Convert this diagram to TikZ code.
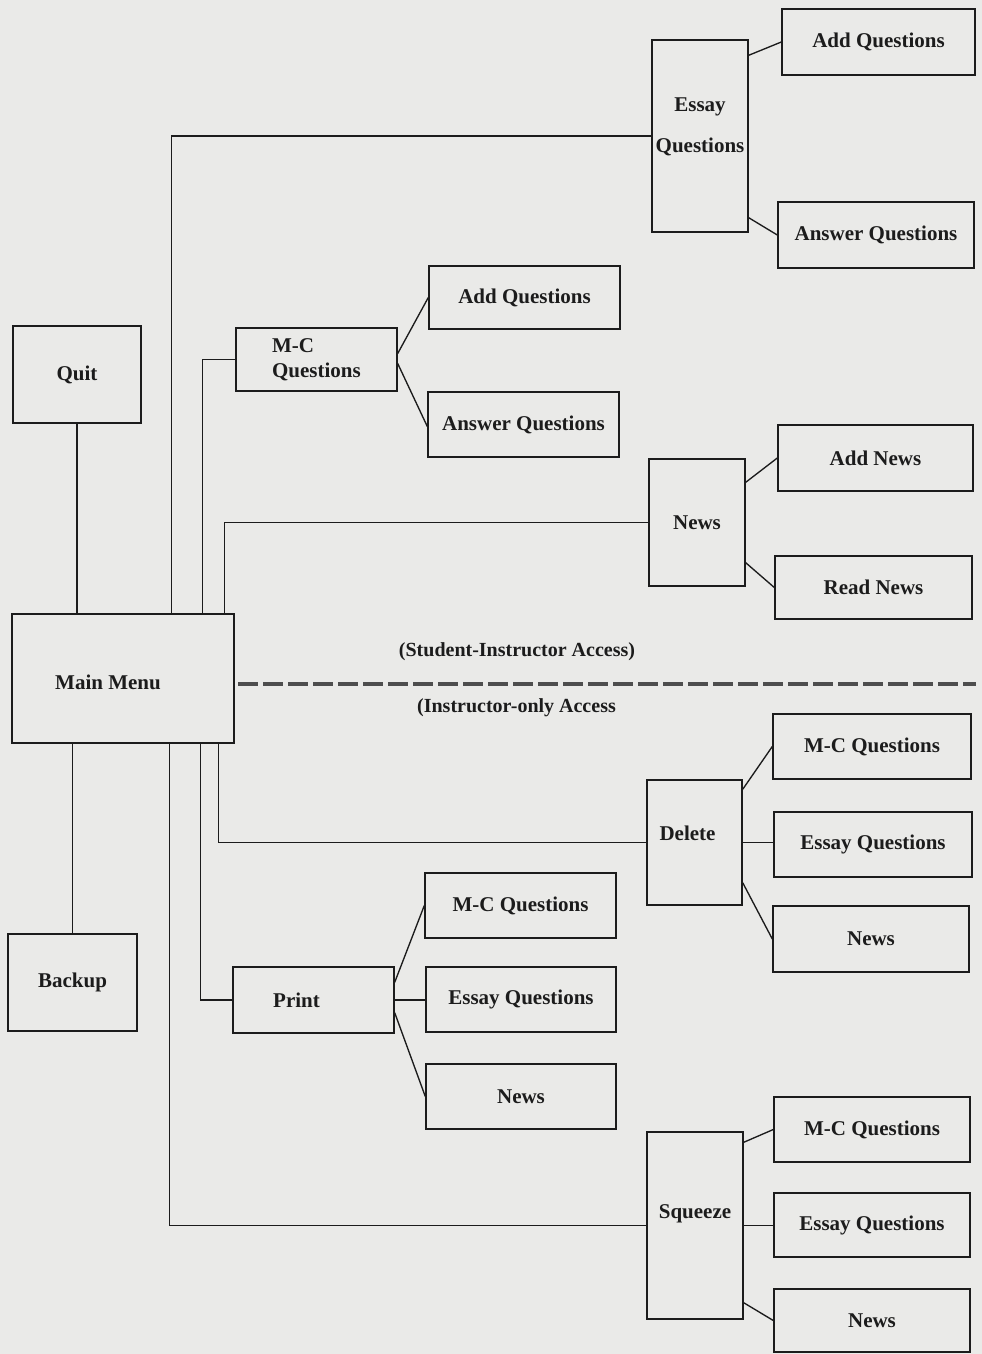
\documentclass[tikz,border=0pt]{standalone}
\usepackage{fontspec}
\setmainfont{Liberation Serif}
\usetikzlibrary{calc}
\definecolor{paper}{RGB}{234,234,232}
\definecolor{ink}{RGB}{28,28,28}
\definecolor{dashink}{RGB}{78,78,78}
\begin{document}
\begin{tikzpicture}[x=1pt,y=-1pt,
  box/.style={draw=ink, line width=1.4pt, inner sep=0pt, text=ink,
    font=\fontsize{21}{25}\selectfont\bfseries},
  btxt/.style={text=ink, inner sep=0pt, font=\fontsize{21}{25}\selectfont\bfseries},
  link/.style={draw=ink, line width=1.35pt},
  lbl/.style={text=ink, font=\fontsize{20}{24}\selectfont\bfseries, inner sep=0pt},
  divider/.style={draw=dashink, line width=3.6pt, dash pattern=on 20pt off 5pt}]
\fill[paper] (0,0) rectangle (982,1354);
\useasboundingbox (0,0) rectangle (982,1354);

% boxes
\node[box, minimum width=96pt, minimum height=192pt] (essay) at (700,136) {};
\node[btxt, align=center] (essayT) at ([yshift=9.5pt]essay.center) {Essay\\[16pt]Questions};
\node[box, minimum width=193pt, minimum height=66pt] (addq1) at (878.5,42) {Add Questions};
\node[box, minimum width=196pt, minimum height=66pt] (ansq1) at (876,235) {Answer Questions};

\node[box, minimum width=128pt, minimum height=97pt] (quit) at (77,374.5) {Quit};
\node[box, minimum width=222pt, minimum height=129pt] (main) at (123,678.5) {};
\node[btxt] (mainT) at ([xshift=-15pt,yshift=-3.5pt]main.center) {Main Menu};

\node[box, minimum width=161pt, minimum height=63pt, align=left] (mc1) at (316.5,359.5) {M-C\\Questions};
\node[box, minimum width=191pt, minimum height=63pt] (addq2) at (524.5,297.5) {Add Questions};
\node[box, minimum width=191pt, minimum height=65pt] (ansq2) at (523.5,424.5) {Answer Questions};

\node[box, minimum width=96pt, minimum height=127pt] (news1) at (697,522.5) {News};
\node[box, minimum width=195pt, minimum height=66pt] (addnews) at (875.5,458) {Add News};
\node[box, minimum width=197pt, minimum height=63pt] (readnews) at (873.5,587.5) {Read News};

\node[box, minimum width=95pt, minimum height=125pt] (delete) at (694.5,842.5) {};
\node[btxt] (deleteT) at ([xshift=-7pt,yshift=9pt]delete.center) {Delete};
\node[box, minimum width=198pt, minimum height=65pt] (dmc) at (872,746.5) {M-C Questions};
\node[box, minimum width=198pt, minimum height=65pt] (dessay) at (873,844.5) {Essay Questions};
\node[box, minimum width=196pt, minimum height=66pt] (dnews) at (871,939) {News};

\node[box, minimum width=161pt, minimum height=66pt] (print) at (313.5,1000) {};
\node[btxt] (printT) at ([xshift=-17pt]print.center) {Print};
\node[box, minimum width=191pt, minimum height=65pt] (pmc) at (520.5,905.5) {M-C Questions};
\node[box, minimum width=190pt, minimum height=65pt] (pessay) at (521,999.5) {Essay Questions};
\node[box, minimum width=190pt, minimum height=65pt] (pnews) at (521,1096.5) {News};

\node[box, minimum width=129pt, minimum height=97pt] (backup) at (72.5,982.5) {Backup};

\node[box, minimum width=96pt, minimum height=187pt] (squeeze) at (695,1225.5) {};
\node[btxt] (squeezeT) at ([yshift=12pt]squeeze.center) {Squeeze};
\node[box, minimum width=196pt, minimum height=65pt] (smc) at (872,1129.5) {M-C Questions};
\node[box, minimum width=196pt, minimum height=64pt] (sessay) at (872,1225) {Essay Questions};
\node[box, minimum width=196pt, minimum height=63pt] (snews) at (872,1320.5) {News};

% access labels and divider
\node[lbl] (stud) at (517,652) {(Student-Instructor Access)};
\node[lbl] (instr) at (516.5,708) {(Instructor-only Access};
\coordinate (dashL) at (238,684);
\coordinate (dashR) at (976,684);
\draw[divider] (dashL) -- (dashR);

% main menu trunks (top)
\draw[link] (quit.south) -- (quit.south |- main.north);
\draw[link] ([xshift=160pt]main.north west) |- (essay.west);
\draw[link] ([xshift=191pt]main.north west) |- (mc1.west);
\draw[link] ([xshift=213pt]main.north west) |- (news1.west);
% main menu trunks (bottom)
\draw[link] (backup.north |- main.south) -- (backup.north);
\draw[link] ([xshift=158pt]main.south west) |- (squeeze.west);
\draw[link] ([xshift=189pt]main.south west) |- (print.west);
\draw[link] ([xshift=207pt]main.south west) |- (delete.west);

% branches
\draw[link] ([yshift=-16pt]essay.north east) -- (addq1.west);
\draw[link] ([yshift=15pt]essay.south east) -- (ansq1.west);
\draw[link] ([yshift=6pt]mc1.east) -- (addq2.west);
\draw[link] ([yshift=-4pt]mc1.east) -- ([yshift=-2pt]ansq2.west);
\draw[link] ([yshift=-24pt]news1.north east) -- (addnews.west);
\draw[link] ([yshift=24pt]news1.south east) -- (readnews.west);
\draw[link] ([yshift=-10pt]delete.north east) -- (dmc.west);
\draw[link] (delete.east) -- (delete.east -| dessay.west);
\draw[link] ([yshift=23pt]delete.south east) -- (dnews.west);
\draw[link] ([yshift=-16pt]print.north east) -- (pmc.west);
\draw[link] (print.east) -- (print.east -| pessay.west);
\draw[link] ([yshift=21pt]print.south east) -- (pnews.west);
\draw[link] ([yshift=-11pt]squeeze.north east) -- (smc.west);
\draw[link] (squeeze.east) -- (squeeze.east -| sessay.west);
\draw[link] ([yshift=17pt]squeeze.south east) -- (snews.west);
\end{tikzpicture}
\end{document}
